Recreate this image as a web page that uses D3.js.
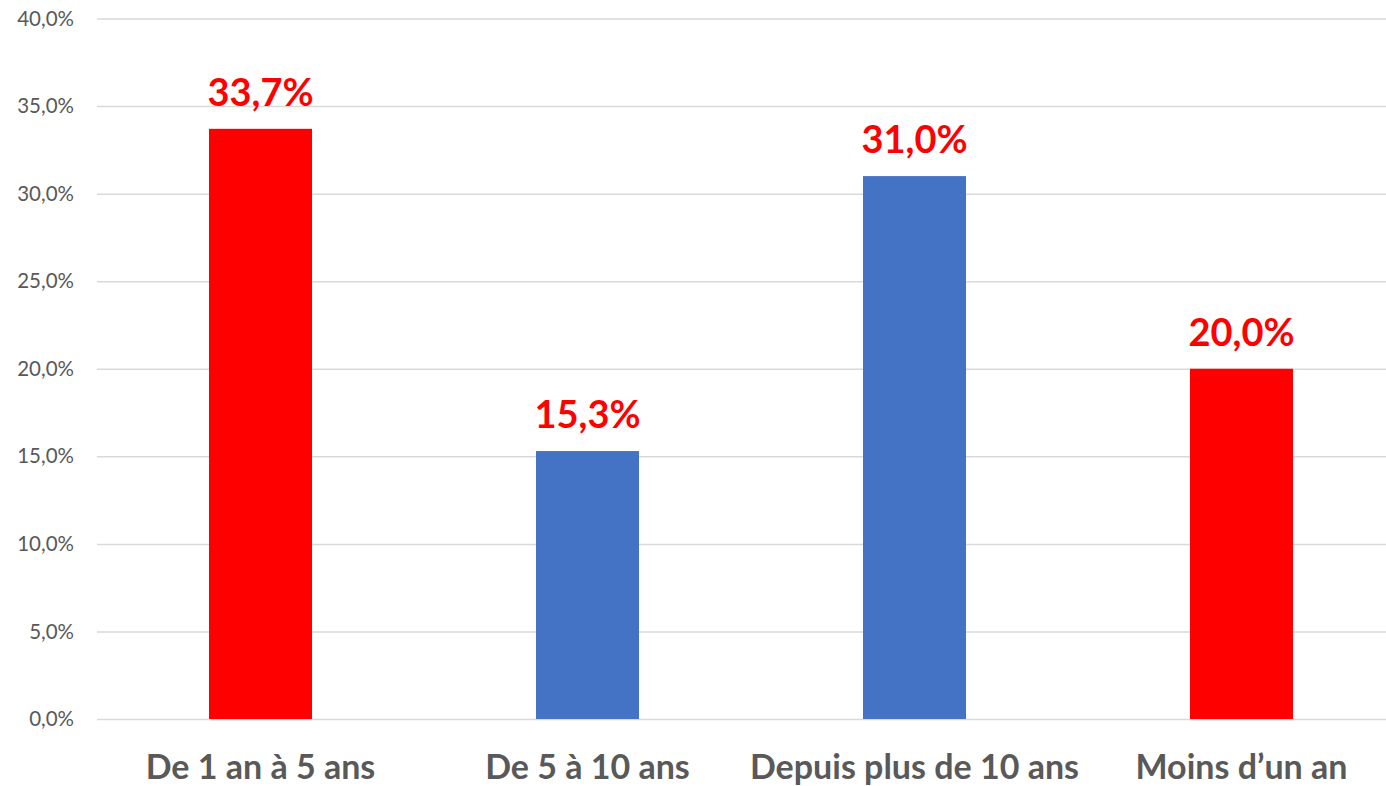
<!DOCTYPE html>
<html>
<head>
<meta charset="utf-8">
<script src="https://cdn.jsdelivr.net/npm/d3@7"></script>
<style>
  body { margin: 0; background: #fff; }
  svg { display: block; }
</style>
</head>
<body>
<svg></svg>
<script>
const categories = ["De 1 an à 5 ans", "De 5 à 10 ans", "Depuis plus de 10 ans", "Moins d’un an"]
const values = [33.7, 15.3, 31.0, 20.0]
const barColors = ["#ff0000", "#4472c4", "#4472c4", "#ff0000"]
const yTicks = [0, 5, 10, 15, 20, 25, 30, 35, 40]

const [width, height] = [1386, 786]
const fmt = (v) => v.toFixed(1).replace(".", ",") + "%"

const svg = d3.select("svg")
  .attr("width", width)
  .attr("height", height)

// plot area runs a bit past the right edge of the picture
const x = d3.scaleBand()
  .domain(categories)
  .range([97, 1405])
  .paddingInner(0.685)
  .paddingOuter(0.3425)

const y = d3.scaleLinear()
  .domain([0, 40])
  .range([719, 18.5])

const yAxis = svg.append("g")
  .attr("transform", "translate(97,0)")
  .call(d3.axisLeft(y).tickValues(yTicks).tickSize(-1400).tickFormat(fmt).tickPadding(23))
yAxis.select(".domain").remove()
yAxis.selectAll(".tick line")
  .attr("stroke", "#d9d9d9")
  .attr("stroke-width", 1.5)
yAxis.selectAll(".tick text")
  .attr("fill", "#595959")
  .style("font-family", "Lato, sans-serif")
  .style("font-size", "20.5px")

svg.selectAll("rect.bar")
  .data(values)
  .enter()
  .append("rect")
  .classed("bar", true)
  .attr("x", (d, i) => x(categories[i]))
  .attr("y", (d) => y(d))
  .attr("width", x.bandwidth())
  .attr("height", (d) => y(0) - y(d))
  .attr("fill", (d, i) => barColors[i])

svg.selectAll("text.value")
  .data(values)
  .enter()
  .append("text")
  .classed("value", true)
  .attr("x", (d, i) => x(categories[i]) + x.bandwidth() / 2)
  .attr("y", (d) => y(d) - 23)
  .attr("text-anchor", "middle")
  .attr("fill", "#ff0000")
  .style("font-family", "Lato, sans-serif")
  .style("font-weight", "bold")
  .style("font-size", "38px")
  .text(fmt)

svg.selectAll("text.cat")
  .data(categories)
  .enter()
  .append("text")
  .classed("cat", true)
  .attr("x", (d) => x(d) + x.bandwidth() / 2)
  .attr("y", 779)
  .attr("text-anchor", "middle")
  .attr("fill", "#595959")
  .style("font-family", "Lato, sans-serif")
  .style("font-weight", "bold")
  .style("font-size", "34px")
  .text((d) => d)
</script>
</body>
</html>
